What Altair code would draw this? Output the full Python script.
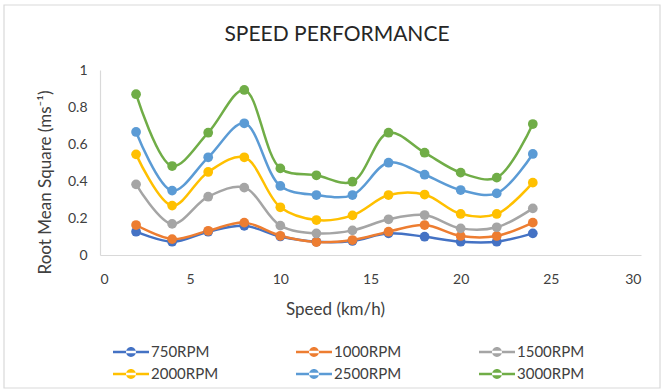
import altair as alt
import pandas as pd

speed = [2, 4, 6, 8, 10, 12, 14, 16, 18, 20, 22, 24]
series_names = ["750RPM", "1000RPM", "1500RPM", "2000RPM", "2500RPM", "3000RPM"]
rpm750 = [0.126, 0.072, 0.126, 0.158, 0.100, 0.072, 0.076, 0.117, 0.099, 0.072, 0.072, 0.117]
rpm1000 = [0.162, 0.086, 0.131, 0.175, 0.104, 0.070, 0.081, 0.126, 0.162, 0.103, 0.103, 0.175]
rpm1500 = [0.382, 0.168, 0.315, 0.364, 0.159, 0.117, 0.133, 0.193, 0.216, 0.144, 0.150, 0.252]
rpm2000 = [0.544, 0.267, 0.449, 0.528, 0.258, 0.189, 0.214, 0.324, 0.327, 0.222, 0.222, 0.391]
rpm2500 = [0.665, 0.348, 0.528, 0.712, 0.373, 0.324, 0.324, 0.499, 0.434, 0.351, 0.333, 0.546]
rpm3000 = [0.869, 0.481, 0.661, 0.892, 0.468, 0.431, 0.396, 0.661, 0.553, 0.445, 0.418, 0.708]
colors = ["#4472C4", "#ED7D31", "#A5A5A5", "#FFC000", "#5B9BD5", "#70AD47"]
title_text = ["SPEED PERFORMANCE"]

x_ticks = [0, 5, 10, 15, 20, 25, 30]
y_ticks = [0, 0.2, 0.4, 0.6, 0.8, 1]

all_vals = [rpm750, rpm1000, rpm1500, rpm2000, rpm2500, rpm3000]
rows = []
for i, (name, vals) in enumerate(zip(series_names, all_vals)):
    for s, v in zip(speed, vals):
        rows.append({"speed": s, "rms": v, "series": name, "order": i})
df = pd.DataFrame(rows)

FONT = "Lato"
TXT = "#404040"

xenc = alt.X("speed:Q",
             scale=alt.Scale(domain=[0, 30], nice=False),
             axis=alt.Axis(values=x_ticks, title="Speed (km/h)", grid=False, ticks=False,
                           domainColor="#D9D9D9", domainWidth=1.2,
                           labelFont=FONT, labelFontSize=14, labelColor=TXT, labelPadding=17,
                           titleFont=FONT, titleFontSize=17, titleFontWeight="normal", titleColor=TXT,
                           titleX=235, titleY=46, titleAnchor="middle"))
yenc = alt.Y("rms:Q",
             scale=alt.Scale(domain=[0, 1], nice=False),
             axis=alt.Axis(values=y_ticks, format="~g", title="Root Mean Square (ms⁻¹)",
                           grid=False, ticks=False,
                           domainColor="#D9D9D9", domainWidth=1.2,
                           labelFont=FONT, labelFontSize=14, labelColor=TXT, labelPadding=13,
                           titleFont=FONT, titleFontSize=17, titleFontWeight="normal", titleColor=TXT,
                           titleX=-55, titleY=112, titleAnchor="middle", titleBaseline="middle"))
color_scale = alt.Scale(domain=series_names, range=colors)

legend_path = ("M-2,-0.13L2,-0.13L2,0.13L-2,0.13Z"
               "M-0.55,0A0.55,0.55 0 1,0 0.55,0A0.55,0.55 0 1,0 -0.55,0Z")
legend = alt.Legend(title=None, orient="none", legendX=22, legendY=273,
                    direction="horizontal", columns=3, columnPadding=77,
                    rowPadding=5, symbolType=legend_path, symbolSize=324,
                    symbolOpacity=1, symbolStrokeWidth=0, labelFont=FONT, labelFontSize=15,
                    labelColor=TXT, labelOffset=11, padding=0)

lines = alt.Chart(df).mark_line(interpolate="catmull-rom", strokeWidth=2.5).encode(
    x=xenc, y=yenc,
    color=alt.Color("series:N", scale=color_scale, legend=legend),
    detail="series:N",
    order="order:Q",
)

points = alt.Chart(df).mark_circle(size=95, opacity=1).encode(
    x=xenc, y=yenc,
    color=alt.Color("series:N", scale=color_scale, legend=legend),
)

border = alt.Chart(pd.DataFrame({"a": [0]})).mark_rect(
    fill=None, stroke="#D9D9D9", strokeWidth=1.2
).encode(x=alt.value(-96), x2=alt.value(560), y=alt.value(-65), y2=alt.value(318))

title = alt.Chart(pd.DataFrame({"t": title_text})).mark_text(
    font=FONT, fontSize=21, color="#262626", align="center", baseline="middle"
).encode(text="t:N", x=alt.value(237), y=alt.value(-35))

chart = alt.layer(border, title, lines, points).properties(
    width=541, height=185,
    padding={"left": 100, "top": 70, "right": 22, "bottom": 137},
    autosize=alt.AutoSizeParams(type="none"),
).configure_view(stroke=None)

chart.save("out.html", embed_options={"renderer": "svg", "actions": False})
